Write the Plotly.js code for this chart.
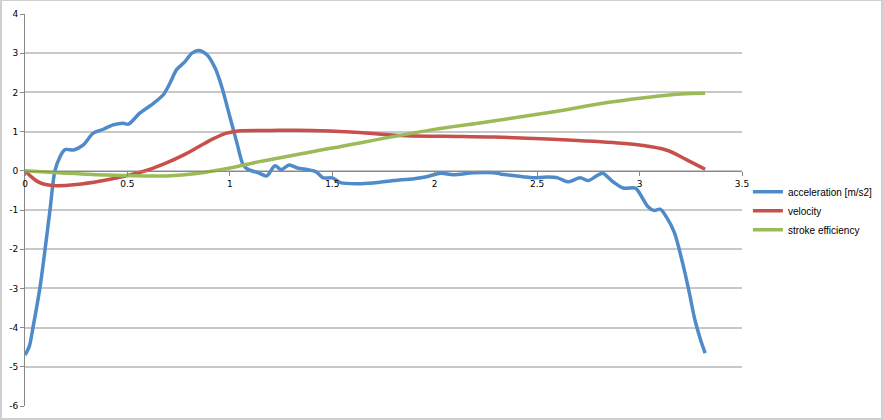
<!DOCTYPE html>
<html>
<head>
<meta charset="utf-8">
<script src="https://cdn.plot.ly/plotly-3.0.1.min.js"></script>
<style>
  html, body { margin: 0; padding: 0; background: #fff; }
  #wrap { position: relative; width: 883px; height: 420px; }
  #chart { position: absolute; left: 0; top: 0; width: 883px; height: 420px; }
  #frame { position: absolute; left: 0; top: 0; width: 883px; height: 420px; box-sizing: border-box;
           border: 2px solid #cfcfcf; border-top-width: 1px; pointer-events: none; }
</style>
</head>
<body>
<div id="wrap"><div id="chart"></div><div id="frame"></div></div>
<script>
const seriesNames = ["acceleration [m/s2]", "velocity", "stroke efficiency"];

const accX = [0.0, 0.021, 0.04, 0.073, 0.098, 0.122, 0.146, 0.171, 0.195, 0.236, 0.26, 0.285, 0.333, 0.382, 0.43, 0.48, 0.505, 0.56, 0.627, 0.675, 0.708, 0.74, 0.78, 0.815, 0.847, 0.888, 0.928, 0.96, 1.0, 1.035, 1.065, 1.09, 1.14, 1.18, 1.22, 1.25, 1.29, 1.33, 1.38, 1.42, 1.455, 1.5, 1.54, 1.62, 1.7, 1.8, 1.9, 1.96, 2.03, 2.09, 2.19, 2.29, 2.32, 2.43, 2.48, 2.55, 2.6, 2.65, 2.71, 2.75, 2.79, 2.82, 2.87, 2.92, 2.98, 3.0, 3.04, 3.07, 3.1, 3.13, 3.17, 3.21, 3.24, 3.27, 3.3, 3.32];
const accY = [-4.7, -4.48, -3.97, -2.98, -2.0, -1.0, 0.0, 0.36, 0.54, 0.53, 0.58, 0.66, 0.96, 1.06, 1.17, 1.21, 1.19, 1.47, 1.72, 1.94, 2.24, 2.58, 2.78, 3.0, 3.07, 2.96, 2.62, 2.15, 1.38, 0.7, 0.15, 0.03, -0.05, -0.13, 0.13, 0.03, 0.15, 0.07, 0.03, -0.02, -0.18, -0.18, -0.3, -0.33, -0.31, -0.25, -0.2, -0.15, -0.06, -0.1, -0.05, -0.05, -0.08, -0.15, -0.18, -0.16, -0.18, -0.28, -0.18, -0.25, -0.13, -0.06, -0.28, -0.44, -0.44, -0.57, -0.91, -1.01, -0.98, -1.17, -1.58, -2.35, -3.04, -3.8, -4.35, -4.65];

const velX = [0, 0.03, 0.06, 0.1, 0.15, 0.25, 0.37, 0.5, 0.6, 0.69, 0.78, 0.85, 0.92, 0.985, 1.05, 1.2, 1.4, 1.59, 1.83, 2.05, 2.29, 2.55, 2.87, 3.0, 3.13, 3.23, 3.32];
const velY = [0, -0.15, -0.27, -0.35, -0.38, -0.35, -0.26, -0.12, 0.02, 0.2, 0.42, 0.62, 0.82, 0.96, 1.02, 1.03, 1.03, 0.99, 0.9, 0.88, 0.86, 0.81, 0.72, 0.66, 0.53, 0.28, 0.04];

const effX = [0, 0.2, 0.4, 0.5, 0.69, 0.85, 1.0, 1.15, 1.5, 1.99, 2.22, 2.55, 2.87, 3.2, 3.32];
const effY = [0, -0.06, -0.11, -0.12, -0.13, -0.06, 0.07, 0.24, 0.58, 1.05, 1.22, 1.48, 1.76, 1.96, 1.98];

const xTicks = [0, 0.5, 1, 1.5, 2, 2.5, 3, 3.5];
const xTickText = ["0", "0.5", "1", "1.5", "2", "2.5", "3", "3.5"];
const yTicks = [-6, -5, -4, -3, -2, -1, 0, 1, 2, 3, 4];
const yTickText = ["-6", "-5", "-4", "-3", "-2", "-1", "0", "1", "2", "3", "4"];

const colors = ["#4F8BC9", "#C8504C", "#9BBB59"];

const traces = [
  {x: accX, y: accY, name: seriesNames[0], mode: "lines", line: {color: colors[0], width: 3.5, shape: "spline", smoothing: 0.8}},
  {x: velX, y: velY, name: seriesNames[1], mode: "lines", line: {color: colors[1], width: 3.5, shape: "spline", smoothing: 1}},
  {x: effX, y: effY, name: seriesNames[2], mode: "lines", line: {color: colors[2], width: 3.5, shape: "spline", smoothing: 1}}
];

const layout = {
  width: 883, height: 420,
  margin: {l: 25, r: 141, t: 14, b: 14, pad: 0, autoexpand: false},
  paper_bgcolor: "rgba(0,0,0,0)", plot_bgcolor: "#fff",
  font: {family: "DejaVu Sans, Verdana, sans-serif", size: 9, color: "#000"},
  showlegend: true,
  legend: {xref: "container", yref: "container", x: 0.847, y: 0.578, xanchor: "left", yanchor: "top",
           font: {family: "Liberation Sans, Arial, sans-serif", size: 10, color: "#000"},
           itemwidth: 30, bgcolor: "rgba(0,0,0,0)", tracegroupgap: 0},
  xaxis: {range: [0, 3.5], tickvals: xTicks, ticktext: xTickText, showgrid: false, zeroline: false,
          showline: true, linecolor: "#888", linewidth: 1, ticks: "outside", ticklen: 4, tickcolor: "#888",
          anchor: "free", position: 0.6, fixedrange: true, automargin: false},
  yaxis: {range: [-6, 4], tickvals: yTicks, ticktext: yTickText, showgrid: true, gridcolor: "#c8c8c8", gridwidth: 2,
          zeroline: false, showline: true, linecolor: "#888", linewidth: 1, ticks: "outside", ticklen: 4,
          tickcolor: "#888", fixedrange: true, automargin: false}
};

Plotly.newPlot("chart", traces, layout, {displayModeBar: false, staticPlot: true});
</script>
</body>
</html>
